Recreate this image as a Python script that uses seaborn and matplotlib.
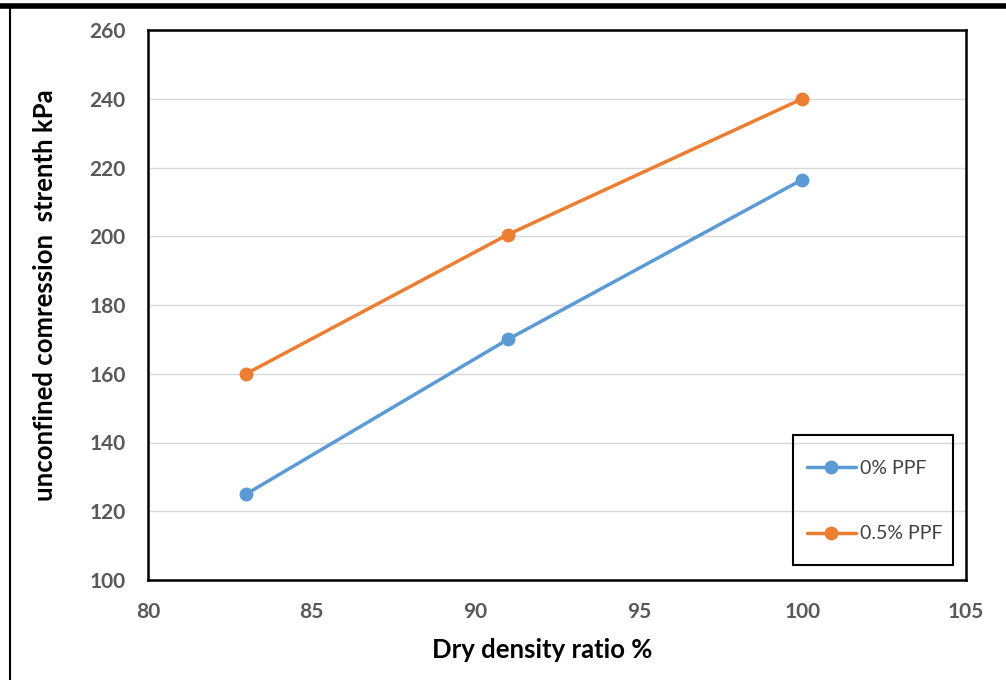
import matplotlib
matplotlib.use("Agg")
import matplotlib.pyplot as plt
import seaborn as sns
import pandas as pd
from matplotlib.lines import Line2D
from matplotlib.patches import Rectangle

density = [83, 91, 100]
ppf0 = [125, 170, 216.5]
ppf05 = [160, 200.5, 240]
series_names = ["0% PPF", "0.5% PPF"]
colors = ["#5B9BD5", "#ED7D31"]

df = pd.DataFrame({
    "x": density * 2,
    "y": ppf0 + ppf05,
    "s": [series_names[0]] * 3 + [series_names[1]] * 3,
})

sns.set_style("white")
plt.rcParams['font.family'] = ['Lato', 'DejaVu Sans']

W, H = 1006, 680
fig = plt.figure(figsize=(W / 100, H / 100), dpi=100)
ax = fig.add_axes([148 / W, 1 - 580 / H, (966 - 148) / W, (580 - 30) / H])

sns.lineplot(data=df, x="x", y="y", hue="s", palette=colors, marker="o",
             markersize=10, markeredgewidth=0, linewidth=2.5, ax=ax, legend=False)

ax.set_xlim(80, 105)
ax.set_ylim(100, 260)
ax.set_xticks([80, 85, 90, 95, 100, 105])
ax.set_yticks(range(100, 261, 20))
ax.yaxis.grid(True, color="#d9d9d9", linewidth=1)
ax.xaxis.grid(False)
for sp in ax.spines.values():
    sp.set_color("black")
    sp.set_linewidth(1.8)
ax.tick_params(axis="both", direction="out", length=6, width=1.5, color="black",
               labelsize=15, labelcolor="#595959")
ax.tick_params(axis="y", pad=10)
ax.tick_params(axis="x", pad=10)
for lab in ax.get_xticklabels() + ax.get_yticklabels():
    lab.set_fontweight("bold")

ax.set_xlabel("")
ax.set_ylabel("")
fig.text(542 / W, 1 - 650 / H, "Dry density ratio %", ha="center", va="center",
         fontsize=18.5, fontweight="bold", color="black")
fig.text(45 / W, 1 - 295 / H, "unconfined comression  strenth kPa", ha="center",
         va="center", rotation=90, fontsize=18.5, fontweight="bold", color="black")

handles = [Line2D([0], [0], color=c, lw=2.5, marker="o", markersize=10, markeredgewidth=0)
           for c in colors]
leg = ax.legend(handles, series_names, loc="center left",
                bbox_to_anchor=(807 / W, 1 - 501 / H), bbox_transform=fig.transFigure,
                frameon=False, fontsize=14, labelspacing=2.5,
                handlelength=2.5, handletextpad=0.2, borderpad=0, borderaxespad=0)
for t in leg.get_texts():
    t.set_color("#404040")
fig.add_artist(Rectangle((793 / W, 1 - 565 / H), 160 / W, 130 / H,
                         transform=fig.transFigure, fill=False,
                         edgecolor="black", linewidth=1.5, zorder=5))

# outer frame lines
fig.add_artist(Line2D([0, 1], [1 - 6 / H, 1 - 6 / H], transform=fig.transFigure,
                      color="black", lw=4))
fig.add_artist(Line2D([10 / W, 10 / W], [0, 1 - 6 / H], transform=fig.transFigure,
                      color="black", lw=1.5))

fig.savefig("out.png", dpi=100)
